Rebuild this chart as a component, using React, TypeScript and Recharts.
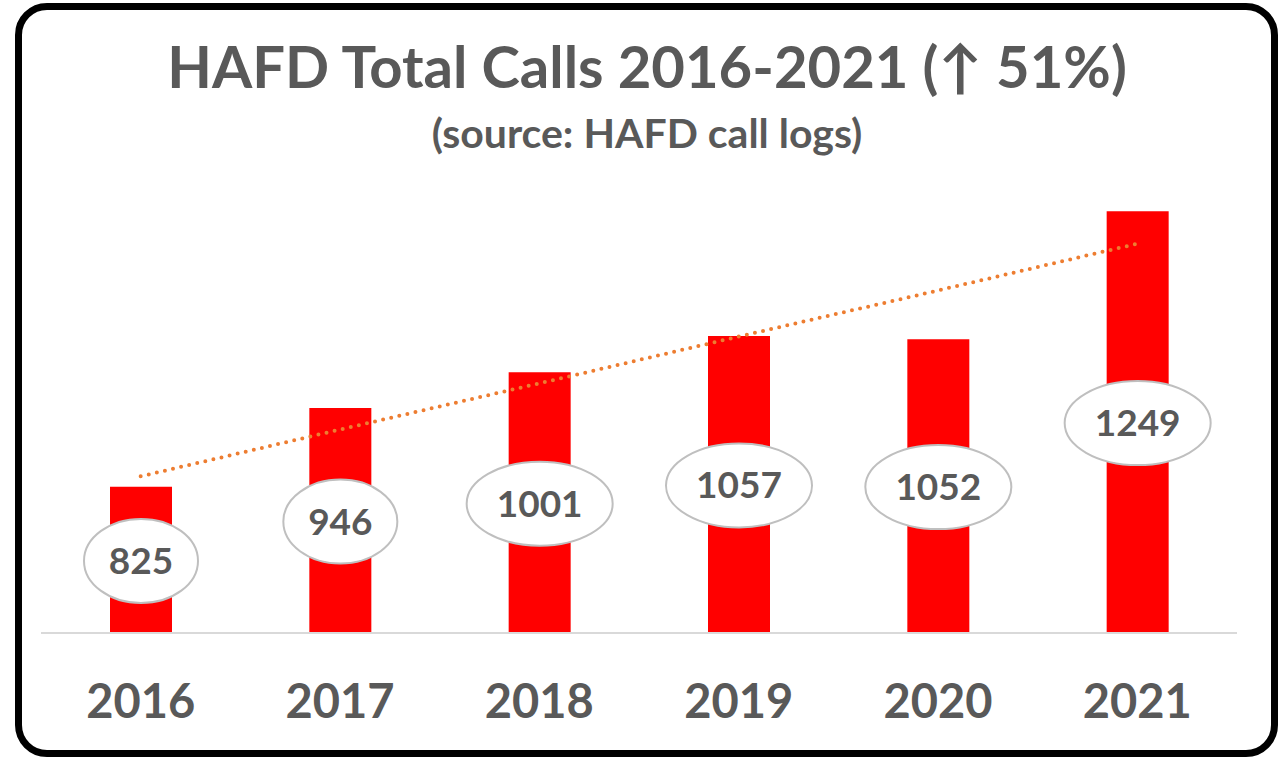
import { ComposedChart, Bar, Line, XAxis, YAxis, LabelList } from 'recharts';

const years = ['2016', '2017', '2018', '2019', '2020', '2021'];
const calls = [825, 946, 1001, 1057, 1052, 1249];
// linear trendline at each year
const trend = [841, 913, 984, 1056, 1127, 1199];

const data = years.map((year, i) => ({ year, calls: calls[i], trend: trend[i] }));

const FONT = 'Lato, "Open Sans", sans-serif';
const GRAY = '#595959';

function Bubble(props: any) {
  const { x, y, width, height, value } = props;
  const cx = Number(x) + Number(width) / 2;
  const cy = Number(y) + Number(height) / 2 + 1;
  const rx = String(value).length * 16 + 9;
  return (
    <g>
      <ellipse cx={cx} cy={cy} rx={rx} ry={42} fill="#fff" stroke="#bfbfbf" strokeWidth={2} />
      <text x={cx} y={cy} dy={13} textAnchor="middle" fill={GRAY} fontSize={37} fontWeight={700} fontFamily={FONT}>
        {value}
      </text>
    </g>
  );
}

function YearTick(props: any) {
  const { x, y, payload } = props;
  return (
    <text x={x} y={y} dy={77} textAnchor="middle" fill={GRAY} fontSize={47} fontWeight={700} fontFamily={FONT}>
      {payload.value}
    </text>
  );
}

export default function App() {
  return (
    <div style={{ position: 'absolute', left: 0, top: 0, width: 1286, height: 758, background: '#fff' }}>
      <ComposedChart width={1286} height={758} data={data} margin={{ top: 178, right: 49, left: 41, bottom: 0 }}>
        <XAxis
          dataKey="year"
          height={125}
          axisLine={{ stroke: '#d9d9d9', strokeWidth: 2 }}
          tickLine={false}
          tick={<YearTick />}
          interval={0}
        />
        <YAxis hide domain={[600, 1300]} />
        <Bar dataKey="calls" fill="#ff0000" barSize={62} isAnimationActive={false}>
          <LabelList dataKey="calls" content={<Bubble />} />
        </Bar>
        <Line
          dataKey="trend"
          stroke="#ed7d31"
          strokeWidth={4}
          strokeDasharray="0 8.3"
          strokeLinecap="round"
          dot={false}
          activeDot={false}
          isAnimationActive={false}
        />
      </ComposedChart>
      <svg width={1286} height={758} style={{ position: 'absolute', left: 0, top: 0, pointerEvents: 'none' }}>
        <text x={647} y={88} textAnchor="middle" fill={GRAY} fontSize={58} fontWeight={700} fontFamily={FONT}>
          HAFD Total Calls 2016-2021 (↑ 51%)
        </text>
        <text x={647} y={148} textAnchor="middle" fill={GRAY} fontSize={41} fontWeight={700} fontFamily={FONT}>
          (source: HAFD call logs)
        </text>
      </svg>
      <div
        style={{
          position: 'absolute',
          left: 15,
          top: 3,
          width: 1263,
          height: 754,
          border: '7px solid #000',
          borderRadius: 32,
          boxSizing: 'border-box',
          pointerEvents: 'none',
        }}
      />
    </div>
  );
}
